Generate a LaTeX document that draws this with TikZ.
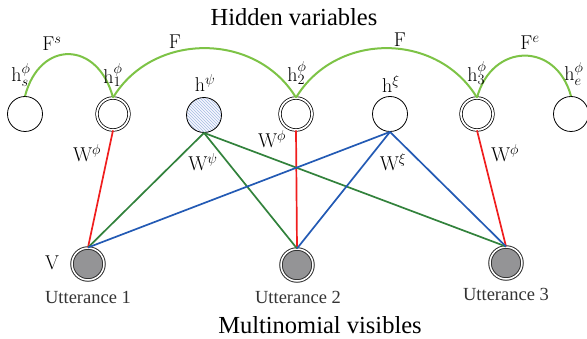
\documentclass[tikz,border=0pt]{standalone}
\usepackage{fontspec}
\newfontfamily\tnr{Liberation Serif}
\usetikzlibrary{patterns}
\definecolor{curvegreen}{RGB}{125,195,70}
\definecolor{edgegreen}{RGB}{50,130,60}
\definecolor{edgeblue}{RGB}{35,90,180}
\definecolor{edgered}{RGB}{240,30,30}
\definecolor{utterfill}{RGB}{148,148,150}
\definecolor{hatchblue}{RGB}{165,188,225}
\begin{document}
\begin{tikzpicture}[x=1pt,y=-1pt,
  hid/.style={circle,draw=black,line width=0.8pt,fill=white,minimum size=35pt,inner sep=0pt},
  hidd/.style={circle,draw=black,line width=0.75pt,double=white,double distance=1.8pt,fill=white,minimum size=32pt,inner sep=0pt},
  vis/.style={circle,draw=black!80,line width=1pt,double=white,double distance=1.5pt,fill=utterfill,minimum size=32pt,inner sep=0pt},
  lab/.style={font=\fontsize{20}{24}\selectfont,inner sep=0pt},
  utt/.style={font=\tnr\fontsize{18.5}{22}\selectfont,text=black!80,inner sep=0pt},
  ttl/.style={font=\tnr\fontsize{24.5}{28}\selectfont,inner sep=0pt},
  fcurve/.style={draw=curvegreen,line width=2pt},
  wedge/.style={line width=1.7pt}]
\useasboundingbox (0,0) rectangle (587,339);
% nodes
\node[hid]  (hs)   at (25,114) {};
\node[hidd] (h1)   at (113,114) {};
\node[hid,preaction={fill=blue!3},pattern=north west lines,pattern color=hatchblue] (hpsi) at (204,115) {};
\node[hidd] (h2)   at (296,114) {};
\node[hid]  (hxi)  at (390,114) {};
\node[hidd] (h3)   at (477,114) {};
\node[hid]  (he)   at (571,114) {};
\node[vis]  (v1)   at (88,264) {};
\node[vis]  (v2)   at (297,265) {};
\node[vis]  (v3)   at (506,263) {};
% F curves
\draw[fcurve] (hs.north) .. controls +(15,-57) and +(-15,-57) .. (h1.north);
\draw[fcurve] (h1.north) .. controls +(40,-66) and +(-40,-66) .. (h2.north);
\draw[fcurve] (h2.north) .. controls +(40,-66) and +(-40,-66) .. (h3.north);
\draw[fcurve] (h3.north) .. controls +(15,-55) and +(-15,-55) .. (he.north);
% W edges
\draw[wedge,edgered]   (h1.south) -- (v1.north);
\draw[wedge,edgered]   (h2.south) -- (v2.north);
\draw[wedge,edgered]   (h3.south) -- (v3.north);
\draw[wedge,edgegreen] (hpsi.south) -- (v1.north);
\draw[wedge,edgegreen] (hpsi.south) -- (v2.north);
\draw[wedge,edgegreen] (hpsi.south) -- (v3.north);
\draw[wedge,edgeblue]  (hxi.south) -- (v1.north);
\draw[wedge,edgeblue]  (hxi.south) -- (v2.north);
\draw[wedge,edgeblue]  (hxi.south) -- (v3.north);
% labels
\node[lab] (lhs)   at (21,75)  {$\mathrm{h}^{\phi}_{s}$};
\node[lab] (lh1)   at (113,75) {$\mathrm{h}^{\phi}_{1}$};
\node[lab] (lhpsi) at (205,83) {$\mathrm{h}^{\psi}$};
\node[lab] (lh2)   at (297,73) {$\mathrm{h}^{\phi}_{2}$};
\node[lab] (lhxi)  at (391,84) {$\mathrm{h}^{\xi}$};
\node[lab] (lh3)   at (477,73) {$\mathrm{h}^{\phi}_{3}$};
\node[lab] (lhe)   at (574,74) {$\mathrm{h}^{\phi}_{e}$};
\node[lab] (lfs)   at (52,44)  {$\mathrm{F}^{s}$};
\node[lab] (lf1)   at (175,42) {$\mathrm{F}$};
\node[lab] (lf2)   at (400,40) {$\mathrm{F}$};
\node[lab] (lfe)   at (530,43) {$\mathrm{F}^{e}$};
\node[lab] (lw1)   at (87,153) {$\mathrm{W}^{\phi}$};
\node[lab] (lwpsi) at (203,162) {$\mathrm{W}^{\psi}$};
\node[lab] (lw2)   at (272,139) {$\mathrm{W}^{\phi}$};
\node[lab] (lwxi)  at (393,162) {$\mathrm{W}^{\xi}$};
\node[lab] (lw3)   at (505,153) {$\mathrm{W}^{\phi}$};
\node[lab] (lv)    at (52,263) {$\mathrm{V}$};
\node[utt] (u1) at (88,297)  {Utterance 1};
\node[utt] (u2) at (298,297) {Utterance 2};
\node[utt] (u3) at (506,294) {Utterance 3};
\node[ttl] (title) at (294,17)  {Hidden variables};
\node[ttl] (foot)  at (320,325) {Multinomial visibles};
\end{tikzpicture}
\end{document}
